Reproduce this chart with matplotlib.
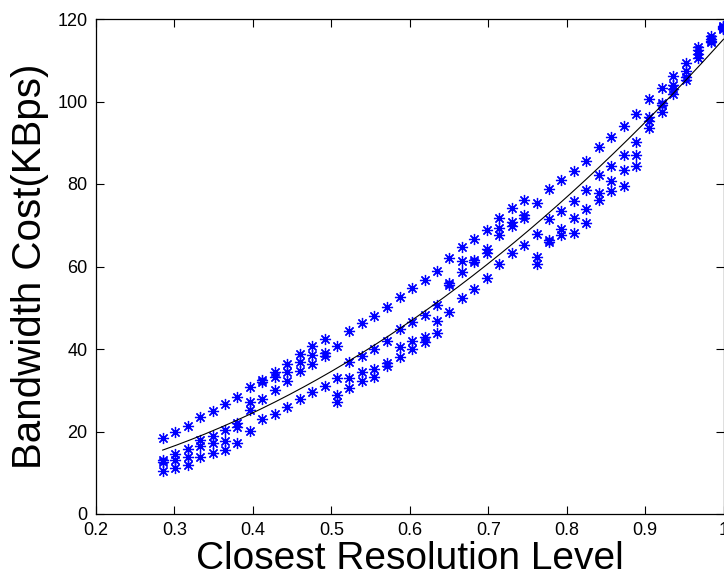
import numpy as np
import matplotlib
matplotlib.use('Agg')
import matplotlib.pyplot as pl
from matplotlib.ticker import FuncFormatter

# resolution levels (x) shared by all runs
res_level = [0.285, 0.301, 0.317, 0.333, 0.349, 0.364, 0.380, 0.396, 0.412, 0.428,
             0.444, 0.460, 0.476, 0.492, 0.507, 0.523, 0.539, 0.555, 0.571, 0.587,
             0.603, 0.619, 0.635, 0.650, 0.666, 0.682, 0.698, 0.714, 0.730, 0.746,
             0.762, 0.778, 0.793, 0.809, 0.825, 0.841, 0.857, 0.873, 0.889, 0.905,
             0.921, 0.936, 0.952, 0.968, 0.984, 1.000]

# bandwidth cost (KBps), four runs
bw_upper = [18.5, 20.0, 21.4, 23.4, 25.0, 26.6, 28.4, 30.9, 32.6, 34.5,
            36.4, 38.8, 40.7, 42.4, 40.7, 44.4, 46.4, 48.0, 50.1, 52.7,
            54.7, 56.7, 58.9, 62.1, 64.8, 66.6, 68.8, 71.8, 74.1, 76.1,
            75.3, 78.7, 81.0, 83.2, 85.6, 88.9, 91.5, 94.0, 97.0, 100.5,
            103.3, 106.1, 109.3, 113.1, 115.8, 118.2]
bw_mid_a = [13.1, 14.5, 15.7, 17.9, 19.0, 20.4, 22.0, 27.2, 32.0, 33.3,
            34.5, 36.9, 38.5, 39.0, 32.9, 36.9, 38.3, 39.9, 42.0, 44.8,
            46.5, 48.2, 50.7, 55.9, 61.3, 61.6, 64.2, 69.4, 70.9, 72.5,
            68.0, 71.5, 73.5, 76.0, 78.5, 82.2, 84.4, 87.0, 90.3, 96.2,
            99.6, 104.1, 107.5, 112.6, 115.2, 118.0]
bw_mid_b = [12.7, 13.0, 13.7, 16.5, 17.2, 17.7, 21.0, 25.2, 28.0, 30.1,
            32.2, 34.7, 36.3, 38.3, 28.8, 33.0, 34.5, 35.1, 36.7, 40.6,
            41.9, 43.0, 46.8, 55.4, 58.7, 61.2, 63.2, 67.6, 69.8, 71.7,
            62.4, 66.5, 69.0, 71.7, 73.9, 77.9, 80.8, 83.4, 87.0, 95.3,
            99.1, 103.1, 105.9, 111.5, 114.7, 117.8]
bw_lower = [10.5, 11.1, 12.0, 13.7, 14.8, 15.5, 17.3, 20.2, 23.0, 24.2,
            25.9, 27.9, 29.5, 31.0, 27.2, 30.5, 32.2, 33.3, 35.9, 38.1,
            39.9, 41.6, 44.0, 49.0, 52.3, 54.5, 57.1, 60.5, 63.2, 65.2,
            60.5, 66.0, 67.6, 68.2, 70.5, 76.1, 78.4, 79.4, 84.4, 93.5,
            97.5, 101.8, 105.3, 110.5, 114.5, 117.6]

# quadratic fit coefficients (highest power first)
fit_coef = [101.2, 9.27, 4.63]

pl.rcParams['font.family'] = ['Liberation Sans', 'DejaVu Sans']

fig = pl.figure(figsize=(7.24, 5.78), dpi=100)
ax = fig.add_axes([96 / 724, 64 / 578, 627.5 / 724, 495 / 578])

star = (8, 2, 0)
for bw in (bw_upper, bw_mid_a, bw_mid_b, bw_lower):
    ax.plot(res_level, bw, ls='none', marker=star, ms=8, mew=0.9,
            color=(0, 0, 1), clip_on=False, zorder=3)

xf = np.linspace(res_level[0], res_level[-1], 200)
ax.plot(xf, np.polyval(fit_coef, xf), color='k', lw=0.8, zorder=4)

ax.set_xlim(0.2, 1.0)
ax.set_ylim(0, 120)
ax.set_xticks(np.arange(0.2, 1.01, 0.1))
ax.set_yticks(np.arange(0, 121, 20))
ax.xaxis.set_major_formatter(FuncFormatter(lambda v, p: f'{v:g}'))
ax.yaxis.set_major_formatter(FuncFormatter(lambda v, p: f'{v:g}'))
ax.tick_params(direction='in', length=6, width=0.8, top=True, right=True,
               labelsize=13, pad=6)
for s in ax.spines.values():
    s.set_linewidth(0.9)

ax.set_xlabel('Closest Resolution Level', fontsize=28, labelpad=1)
ax.set_ylabel('Bandwidth Cost(KBps)', fontsize=29, labelpad=6)

fig.savefig('out.png', dpi=100)
